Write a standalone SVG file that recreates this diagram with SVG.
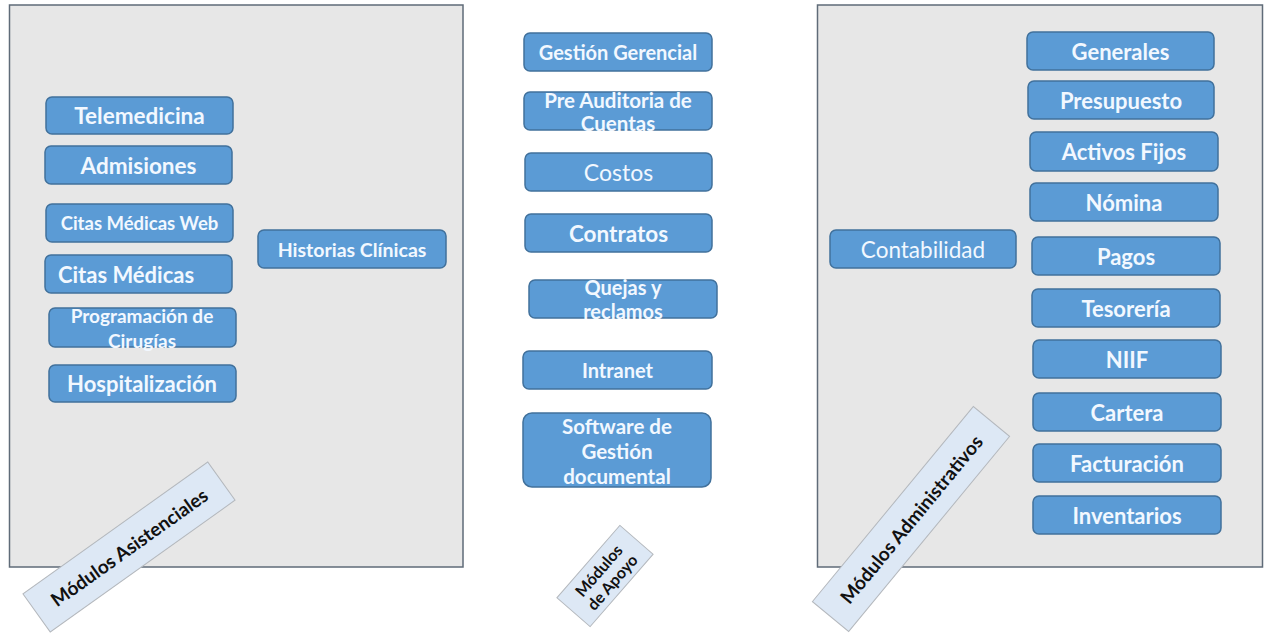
<svg xmlns="http://www.w3.org/2000/svg" width="1266" height="633" viewBox="0 0 1266 633">
<style>
.panel{fill:#e7e7e7;stroke:#5f6b78;stroke-width:1.5}
.node rect{fill:#5b9bd5;stroke:#41719c;stroke-width:1.5}
.node text{fill:#f2f8ff;font-family:Lato,"Liberation Sans",sans-serif;font-weight:bold;text-anchor:middle;dominant-baseline:central}
.node text.reg{font-weight:normal}
.lbl rect{fill:#dde8f5;stroke:#b4b8bd;stroke-width:1}
.lbl text{fill:#111;font-family:Lato,"Liberation Sans",sans-serif;font-weight:bold;text-anchor:middle;dominant-baseline:central}
</style>
<rect width="1266" height="633" fill="#ffffff"/>
<g id="panel-asistenciales"><rect class="panel" x="9.5" y="5" width="453.5" height="562"/></g>
<g id="panel-administrativos"><rect class="panel" x="817.5" y="5" width="445" height="562"/></g>
<g id="connectors"></g>
<g id="n-telemedicina" class="node"><rect x="46" y="97" width="187" height="37" rx="6"/><text x="139.5" y="115.5" font-size="22.5">Telemedicina</text></g>
<g id="n-admisiones" class="node"><rect x="45" y="146" width="187" height="38" rx="6"/><text x="138.5" y="165" font-size="22.5">Admisiones</text></g>
<g id="n-citasweb" class="node"><rect x="46" y="204" width="187" height="38" rx="6"/><text x="139.5" y="223" font-size="18.5">Citas Médicas Web</text></g>
<g id="n-citas" class="node"><rect x="45" y="255" width="187" height="38" rx="6"/><text x="126" y="274" font-size="22">Citas Médicas</text></g>
<g id="n-cirugias" class="node"><rect x="49" y="308" width="187" height="39" rx="6"/><text x="142" y="315" font-size="19">Programación de</text><text x="142" y="340" font-size="19">Cirugías</text></g>
<g id="n-hospitalizacion" class="node"><rect x="49" y="365" width="187" height="37" rx="6"/><text x="142" y="383.5" font-size="22">Hospitalización</text></g>
<g id="n-historias" class="node"><rect x="258" y="230" width="188" height="38" rx="6"/><text x="352" y="249" font-size="19.5">Historias Clínicas</text></g>
<g id="n-gerencial" class="node"><rect x="524" y="33" width="188" height="38" rx="6"/><text x="618" y="52" font-size="20">Gestión Gerencial</text></g>
<g id="n-preauditoria" class="node"><rect x="524" y="92" width="188" height="38" rx="6"/><text x="618" y="100" font-size="20.5">Pre Auditoria de</text><text x="618" y="123" font-size="20.5">Cuentas</text></g>
<g id="n-costos" class="node"><rect x="525" y="153" width="187" height="38" rx="6"/><text class="reg" x="618.5" y="172" font-size="23">Costos</text></g>
<g id="n-contratos" class="node"><rect x="525" y="214" width="187" height="38" rx="6"/><text x="618.5" y="233" font-size="22.5">Contratos</text></g>
<g id="n-quejas" class="node"><rect x="529" y="280" width="188" height="38" rx="6"/><text x="623" y="287" font-size="20">Quejas y</text><text x="623" y="311" font-size="20">reclamos</text></g>
<g id="n-intranet" class="node"><rect x="523" y="351" width="189" height="38" rx="6"/><text x="617.5" y="370" font-size="20">Intranet</text></g>
<g id="n-software" class="node"><rect x="523" y="413" width="188" height="74" rx="9"/><text x="617" y="426" font-size="20.5">Software de</text><text x="617" y="451" font-size="20.5">Gestión</text><text x="617" y="476" font-size="20.5">documental</text></g>
<g id="n-contabilidad" class="node"><rect x="830" y="230" width="186" height="38" rx="6"/><text class="reg" x="923" y="249" font-size="22.5">Contabilidad</text></g>
<g id="n-generales" class="node"><rect x="1027" y="32" width="187" height="38" rx="6"/><text x="1120.5" y="51" font-size="22">Generales</text></g>
<g id="n-presupuesto" class="node"><rect x="1028" y="81" width="186" height="38" rx="6"/><text x="1121" y="100" font-size="22">Presupuesto</text></g>
<g id="n-activos" class="node"><rect x="1030" y="132" width="188" height="39" rx="6"/><text x="1124" y="151.5" font-size="22">Activos Fijos</text></g>
<g id="n-nomina" class="node"><rect x="1030" y="183" width="188" height="38" rx="6"/><text x="1124" y="202" font-size="22">Nómina</text></g>
<g id="n-pagos" class="node"><rect x="1032" y="237" width="188" height="38" rx="6"/><text x="1126" y="256" font-size="22">Pagos</text></g>
<g id="n-tesoreria" class="node"><rect x="1032" y="289" width="188" height="38" rx="6"/><text x="1126" y="308" font-size="22">Tesorería</text></g>
<g id="n-niif" class="node"><rect x="1033" y="340" width="188" height="38" rx="6"/><text x="1127" y="359" font-size="22">NIIF</text></g>
<g id="n-cartera" class="node"><rect x="1033" y="393" width="188" height="38" rx="6"/><text x="1127" y="412" font-size="22">Cartera</text></g>
<g id="n-facturacion" class="node"><rect x="1033" y="444" width="188" height="38" rx="6"/><text x="1127" y="463" font-size="22">Facturación</text></g>
<g id="n-inventarios" class="node"><rect x="1033" y="496" width="188" height="38" rx="6"/><text x="1127" y="515" font-size="22">Inventarios</text></g>
<g id="lbl-asistenciales" class="lbl" transform="translate(129 547) rotate(-35.5)"><rect x="-113.5" y="-23.5" width="227" height="47"/><text x="0" y="0" font-size="19">Módulos Asistenciales</text></g>
<g id="lbl-apoyo" class="lbl" transform="translate(605 576) rotate(-49)"><rect x="-48" y="-22" width="96" height="44"/><text x="0" y="-9" font-size="16">Módulos</text><text x="0" y="9" font-size="16">de Apoyo</text></g>
<g id="lbl-administrativos" class="lbl" transform="translate(911 519) rotate(-50.5)"><rect x="-126.5" y="-23.5" width="253" height="47"/><text x="0" y="0" font-size="19">Módulos Administrativos</text></g>
</svg>
